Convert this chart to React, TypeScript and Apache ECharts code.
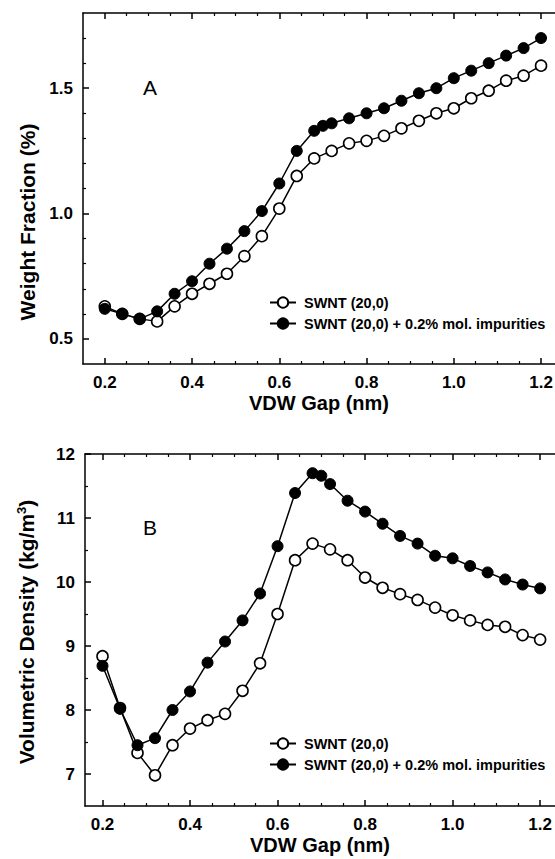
import React, { useEffect, useRef } from "react";
import * as echarts from "echarts";

const FONT = '"Liberation Sans", Arial, Helvetica, sans-serif';

// VDW gap (nm)
const gapOpen = [0.2, 0.24, 0.28, 0.32, 0.36, 0.4, 0.44, 0.48, 0.52, 0.56, 0.6, 0.64, 0.68, 0.72, 0.76, 0.8, 0.84, 0.88, 0.92, 0.96, 1.0, 1.04, 1.08, 1.12, 1.16, 1.2];
const gapFilled = [0.2, 0.24, 0.28, 0.32, 0.36, 0.4, 0.44, 0.48, 0.52, 0.56, 0.6, 0.64, 0.68, 0.7, 0.72, 0.76, 0.8, 0.84, 0.88, 0.92, 0.96, 1.0, 1.04, 1.08, 1.12, 1.16, 1.2];

// Panel A: weight fraction (%)
const weightPure = [0.63, 0.6, 0.58, 0.57, 0.63, 0.68, 0.72, 0.76, 0.83, 0.91, 1.02, 1.15, 1.22, 1.25, 1.28, 1.29, 1.31, 1.34, 1.37, 1.4, 1.42, 1.46, 1.49, 1.53, 1.55, 1.59];
const weightImp = [0.62, 0.6, 0.58, 0.61, 0.68, 0.73, 0.8, 0.86, 0.93, 1.01, 1.12, 1.25, 1.33, 1.35, 1.36, 1.38, 1.4, 1.42, 1.45, 1.48, 1.5, 1.54, 1.57, 1.6, 1.63, 1.66, 1.7];

// Panel B: volumetric density (kg/m3)
const densPure = [8.84, 8.03, 7.33, 6.98, 7.45, 7.71, 7.84, 7.94, 8.3, 8.73, 9.5, 10.34, 10.6, 10.51, 10.34, 10.07, 9.91, 9.81, 9.72, 9.6, 9.48, 9.4, 9.33, 9.3, 9.17, 9.1];
const densImp = [8.69, 8.02, 7.45, 7.56, 8.0, 8.29, 8.74, 9.07, 9.4, 9.82, 10.56, 11.39, 11.7, 11.66, 11.53, 11.27, 11.1, 10.91, 10.72, 10.6, 10.41, 10.37, 10.25, 10.15, 10.04, 9.96, 9.9];

const seriesNames = ["SWNT (20,0)", "SWNT (20,0) + 0.2% mol. impurities"];

// ticks
const xMajor = [0.2, 0.4, 0.6, 0.8, 1.0, 1.2];
const xMinor = [0.25, 0.3, 0.35, 0.45, 0.5, 0.55, 0.65, 0.7, 0.75, 0.85, 0.9, 0.95, 1.05, 1.1, 1.15];
const yAMajor = [0.5, 1.0, 1.5];
const yAMinor = [0.6, 0.7, 0.8, 0.9, 1.1, 1.2, 1.3, 1.4, 1.6, 1.7];
const yBMajor = [7, 8, 9, 10, 11, 12];
const yBMinor = [7.5, 8.5, 9.5, 10.5, 11.5];

const BLACK = "#000";

function xAxesFor(gridIndex: number, min: number, max: number) {
  const base = {
    type: "value",
    gridIndex,
    min,
    max,
    splitLine: { show: false },
  };
  return [
    {
      ...base,
      position: "bottom",
      axisLine: { show: true, onZero: false, lineStyle: { color: BLACK, width: 1.5 } },
      axisTick: { show: true, inside: true, length: 6, customValues: xMajor, lineStyle: { color: BLACK, width: 1.5 } },
      axisLabel: {
        show: true,
        customValues: xMajor,
        margin: 10,
        formatter: (v: number) => v.toFixed(1),
        color: BLACK,
        fontFamily: FONT,
        fontWeight: "bold",
        fontSize: 17,
      },
      name: "VDW Gap (nm)",
      nameLocation: "middle",
      nameGap: 29,
      nameTextStyle: { color: BLACK, fontFamily: FONT, fontWeight: "bold", fontSize: 20 },
    },
    {
      ...base,
      position: "bottom",
      axisLine: { show: false, onZero: false },
      axisTick: { show: true, inside: true, length: 3, customValues: xMinor, lineStyle: { color: BLACK, width: 1.2 } },
      axisLabel: { show: false },
    },
    {
      ...base,
      position: "top",
      axisLine: { show: true, onZero: false, lineStyle: { color: BLACK, width: 1.5 } },
      axisTick: { show: true, inside: true, length: 6, customValues: xMajor, lineStyle: { color: BLACK, width: 1.5 } },
      axisLabel: { show: false },
    },
    {
      ...base,
      position: "top",
      axisLine: { show: false, onZero: false },
      axisTick: { show: true, inside: true, length: 3, customValues: xMinor, lineStyle: { color: BLACK, width: 1.2 } },
      axisLabel: { show: false },
    },
  ];
}

function yAxesFor(gridIndex: number, min: number, max: number, major: number[], minor: number[], digits: number) {
  const base = { type: "value", gridIndex, min, max, position: "left", splitLine: { show: false } };
  return [
    {
      ...base,
      axisLine: { show: true, onZero: false, lineStyle: { color: BLACK, width: 1.5 } },
      axisTick: { show: true, inside: true, length: 6, customValues: major, lineStyle: { color: BLACK, width: 1.5 } },
      axisLabel: {
        show: true,
        customValues: major,
        margin: 10,
        formatter: (v: number) => v.toFixed(digits),
        color: BLACK,
        fontFamily: FONT,
        fontWeight: "bold",
        fontSize: 17,
      },
    },
    {
      ...base,
      axisLine: { show: false, onZero: false },
      axisTick: { show: true, inside: true, length: 3, customValues: minor, lineStyle: { color: BLACK, width: 1.2 } },
      axisLabel: { show: false },
    },
  ];
}

function pairs(xs: number[], ys: number[]) {
  return xs.map((x, i) => [x, ys[i]]);
}

function lineSeries(name: string, xIdx: number, yIdx: number, data: number[][], filled: boolean) {
  return {
    type: "line",
    name,
    xAxisIndex: xIdx,
    yAxisIndex: yIdx,
    data,
    symbol: "circle",
    symbolSize: 11,
    showAllSymbol: true,
    lineStyle: { color: BLACK, width: 1.5 },
    itemStyle: filled
      ? { color: BLACK, borderColor: BLACK, borderWidth: 1 }
      : { color: "#fff", borderColor: BLACK, borderWidth: 1.6 },
    emphasis: { disabled: true },
    z: filled ? 3 : 2,
  };
}

function legendAt(top: number) {
  return {
    orient: "vertical",
    left: 264,
    top,
    itemWidth: 26,
    itemHeight: 13,
    itemGap: 6,
    selectedMode: false,
    data: seriesNames,
    textStyle: { color: BLACK, fontFamily: FONT, fontWeight: "bold", fontSize: 14.5, padding: [0, 0, 0, 3] },
  };
}

export default function App() {
  const ref = useRef<HTMLDivElement>(null);

  useEffect(() => {
    if (!ref.current) return;
    const chart = echarts.init(ref.current, undefined, { renderer: "svg" });
    const option = {
      animation: false,
      backgroundColor: "#fff",
      grid: [
        { left: 83, top: 13, right: 0, height: 351, outerBoundsMode: "none", containLabel: false },
        { left: 85, top: 454, right: 0, height: 352, outerBoundsMode: "none", containLabel: false },
      ],
      xAxis: [...xAxesFor(0, 0.15, 1.232), ...xAxesFor(1, 0.16, 1.234)],
      yAxis: [
        ...yAxesFor(0, 0.4, 1.8, yAMajor, yAMinor, 1),
        ...yAxesFor(1, 6.5, 12, yBMajor, yBMinor, 0),
      ],
      legend: [legendAt(290), legendAt(731)],
      series: [
        lineSeries(seriesNames[0], 0, 0, pairs(gapOpen, weightPure), false),
        lineSeries(seriesNames[1], 0, 0, pairs(gapFilled, weightImp), true),
        lineSeries(seriesNames[0], 4, 2, pairs(gapOpen, densPure), false),
        lineSeries(seriesNames[1], 4, 2, pairs(gapFilled, densImp), true),
      ],
      graphic: [
        {
          type: "text",
          x: 150,
          y: 87,
          style: { text: "A", fontFamily: FONT, fontSize: 21, fill: BLACK, align: "center", verticalAlign: "middle" },
        },
        {
          type: "text",
          x: 150,
          y: 527,
          style: { text: "B", fontFamily: FONT, fontSize: 21, fill: BLACK, align: "center", verticalAlign: "middle" },
        },
        {
          type: "text",
          x: 27,
          y: 222,
          rotation: Math.PI / 2,
          style: {
            text: "Weight Fraction (%)",
            fontFamily: FONT,
            fontWeight: "bold",
            fontSize: 21,
            fill: BLACK,
            align: "center",
            verticalAlign: "middle",
          },
        },
        {
          type: "text",
          x: 26,
          y: 632,
          rotation: Math.PI / 2,
          style: {
            text: "Volumetric Density (kg/m{sup|3})",
            fontFamily: FONT,
            fontWeight: "bold",
            fontSize: 21,
            fill: BLACK,
            align: "center",
            verticalAlign: "middle",
            rich: {
              sup: { fontFamily: FONT, fontWeight: "bold", fontSize: 13, verticalAlign: "top", padding: [0, 0, 9, 0], fill: BLACK },
            },
          },
        },
      ],
    };
    chart.setOption(option as any);
    return () => chart.dispose();
  }, []);

  return (
    <div
      ref={ref}
      style={{ position: "absolute", left: 0, top: 0, width: 555, height: 859, background: "#fff" }}
    />
  );
}
